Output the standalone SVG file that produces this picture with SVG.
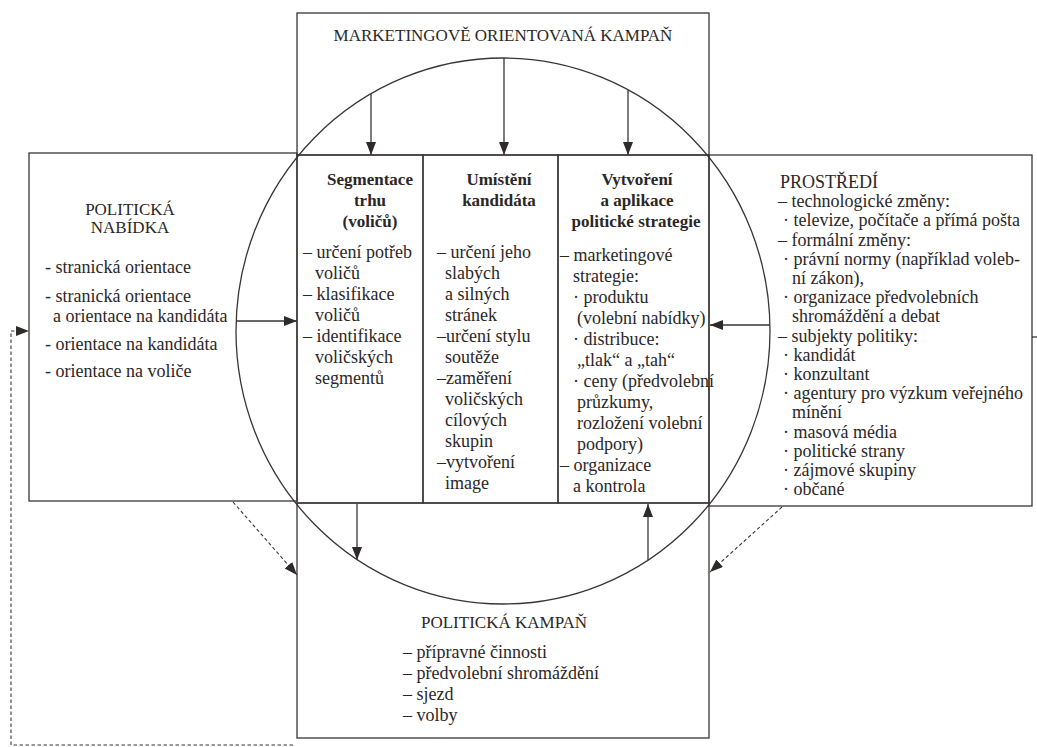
<svg xmlns="http://www.w3.org/2000/svg" width="1037" height="747" viewBox="0 0 1037 747">
<defs>
<style>
.frame{fill:none;stroke:#3a3535;stroke-width:1.3}
.conn{fill:none;stroke:#3a3535;stroke-width:1.3}
.dash{fill:none;stroke:#3a3535;stroke-width:1.1;stroke-dasharray:3.5 2.5}
text{font-family:"Liberation Serif","Times New Roman",serif;fill:#2b2727}
.t{font-size:17px}
.b{font-size:18px}
.h{font-size:17px;font-weight:bold}
.m{text-anchor:middle}
</style>
<marker id="ah" markerUnits="userSpaceOnUse" markerWidth="14" markerHeight="11" refX="13" refY="5" orient="auto">
<path d="M0,0 L13,5 L0,10 z" fill="#2f2a2a"/>
</marker>
</defs>
<rect width="1037" height="747" fill="#ffffff"/>

<g id="marketing">
<rect class="frame" x="297" y="13" width="412" height="142"/>
<text class="t m" x="503" y="41">MARKETINGOVĚ ORIENTOVANÁ KAMPAŇ</text>
</g>

<g id="nabidka">
<rect class="frame" x="29" y="153" width="268" height="348"/>
<text class="t m" x="130" y="215">POLITICKÁ</text>
<text class="t m" x="130" y="233">NABÍDKA</text>
<text class="b" x="45" y="273">- stranická orientace</text>
<text class="b" x="45" y="302">- stranická orientace</text>
<text class="b" x="53" y="322">a orientace na kandidáta</text>
<text class="b" x="45" y="350">- orientace na kandidáta</text>
<text class="b" x="45" y="377">- orientace na voliče</text>
</g>

<g id="prostredi">
<rect class="frame" x="709" y="155" width="323" height="351"/>
<line class="frame" x1="1032" y1="337" x2="1037" y2="337"/>
<text class="b" x="780" y="188">PROSTŘEDÍ</text>
<text class="b" x="778" y="207">– technologické změny:</text>
<text class="b" x="783" y="226">· televize, počítače a přímá pošta</text>
<text class="b" x="778" y="246">– formální změny:</text>
<text class="b" x="783" y="265">· právní normy (například voleb-</text>
<text class="b" x="792" y="284">ní zákon),</text>
<text class="b" x="783" y="303">· organizace předvolebních</text>
<text class="b" x="792" y="322">shromáždění a debat</text>
<text class="b" x="778" y="342">– subjekty politiky:</text>
<text class="b" x="783" y="361">· kandidát</text>
<text class="b" x="783" y="380">· konzultant</text>
<text class="b" x="783" y="399">· agentury pro výzkum veřejného</text>
<text class="b" x="792" y="418">mínění</text>
<text class="b" x="783" y="438">· masová média</text>
<text class="b" x="783" y="457">· politické strany</text>
<text class="b" x="783" y="476">· zájmové skupiny</text>
<text class="b" x="783" y="495">· občané</text>
</g>

<g id="kampan">
<rect class="frame" x="297" y="503" width="412" height="235"/>
<text class="t" x="421" y="628">POLITICKÁ KAMPAŇ</text>
<text class="b" x="403" y="658">– přípravné činnosti</text>
<text class="b" x="403" y="679">– předvolební shromáždění</text>
<text class="b" x="403" y="700">– sjezd</text>
<text class="b" x="403" y="721">– volby</text>
</g>

<g id="segmentace">
<rect class="frame" x="297" y="155" width="126" height="348"/>
<text class="h m" x="370" y="185">Segmentace</text>
<text class="h m" x="370" y="206">trhu</text>
<text class="h m" x="370" y="227">(voličů)</text>
<text class="b" x="303" y="258">– určení potřeb</text>
<text class="b" x="315" y="279">voličů</text>
<text class="b" x="303" y="300">– klasifikace</text>
<text class="b" x="315" y="321">voličů</text>
<text class="b" x="303" y="342">– identifikace</text>
<text class="b" x="315" y="363">voličských</text>
<text class="b" x="315" y="384">segmentů</text>
</g>

<g id="umisteni">
<rect class="frame" x="423" y="155" width="135" height="348"/>
<text class="h m" x="499" y="185">Umístění</text>
<text class="h m" x="499" y="206">kandidáta</text>
<text class="b" x="437" y="258">– určení jeho</text>
<text class="b" x="445" y="279">slabých</text>
<text class="b" x="445" y="300">a silných</text>
<text class="b" x="445" y="321">stránek</text>
<text class="b" x="437" y="342">–určení stylu</text>
<text class="b" x="445" y="363">soutěže</text>
<text class="b" x="437" y="384">–zaměření</text>
<text class="b" x="445" y="405">voličských</text>
<text class="b" x="445" y="426">cílových</text>
<text class="b" x="445" y="447">skupin</text>
<text class="b" x="437" y="468">–vytvoření</text>
<text class="b" x="445" y="489">image</text>
</g>

<g id="strategie">
<rect class="frame" x="558" y="155" width="151" height="348"/>
<text class="h m" x="637" y="185">Vytvoření</text>
<text class="h m" x="637" y="206">a aplikace</text>
<text class="h m" x="636" y="227">politické strategie</text>
<text class="b" x="560" y="261">– marketingové</text>
<text class="b" x="573" y="282">strategie:</text>
<text class="b" x="573" y="303">· produktu</text>
<text class="b" x="577" y="324">(volební nabídky)</text>
<text class="b" x="573" y="345">· distribuce:</text>
<text class="b" x="577" y="366">„tlak“ a „tah“</text>
<text class="b" x="573" y="387">· ceny (předvolební</text>
<text class="b" x="577" y="408">průzkumy,</text>
<text class="b" x="577" y="429">rozložení volební</text>
<text class="b" x="577" y="450">podpory)</text>
<text class="b" x="560" y="471">– organizace</text>
<text class="b" x="573" y="492">a kontrola</text>
</g>

<g id="circle">
<ellipse class="frame" cx="503" cy="331" rx="267" ry="273"/>
</g>

<g id="connectors">
<line class="conn" x1="371" y1="94" x2="371" y2="155" marker-end="url(#ah)"/>
<line class="conn" x1="504" y1="58" x2="504" y2="155" marker-end="url(#ah)"/>
<line class="conn" x1="628" y1="90" x2="628" y2="155" marker-end="url(#ah)"/>
<line class="conn" x1="237" y1="321" x2="297" y2="321" marker-end="url(#ah)"/>
<line class="conn" x1="770" y1="325" x2="710" y2="325" marker-end="url(#ah)"/>
<line class="conn" x1="357" y1="504" x2="357" y2="560" marker-end="url(#ah)"/>
<line class="conn" x1="648" y1="560" x2="648" y2="504" marker-end="url(#ah)"/>
<line class="dash" x1="233" y1="502" x2="297" y2="575" marker-end="url(#ah)"/>
<line class="dash" x1="782" y1="507" x2="710" y2="572" marker-end="url(#ah)"/>
<polyline class="dash" points="293,745 11,745 11,331 29,331" marker-end="url(#ah)"/>
</g>
</svg>
